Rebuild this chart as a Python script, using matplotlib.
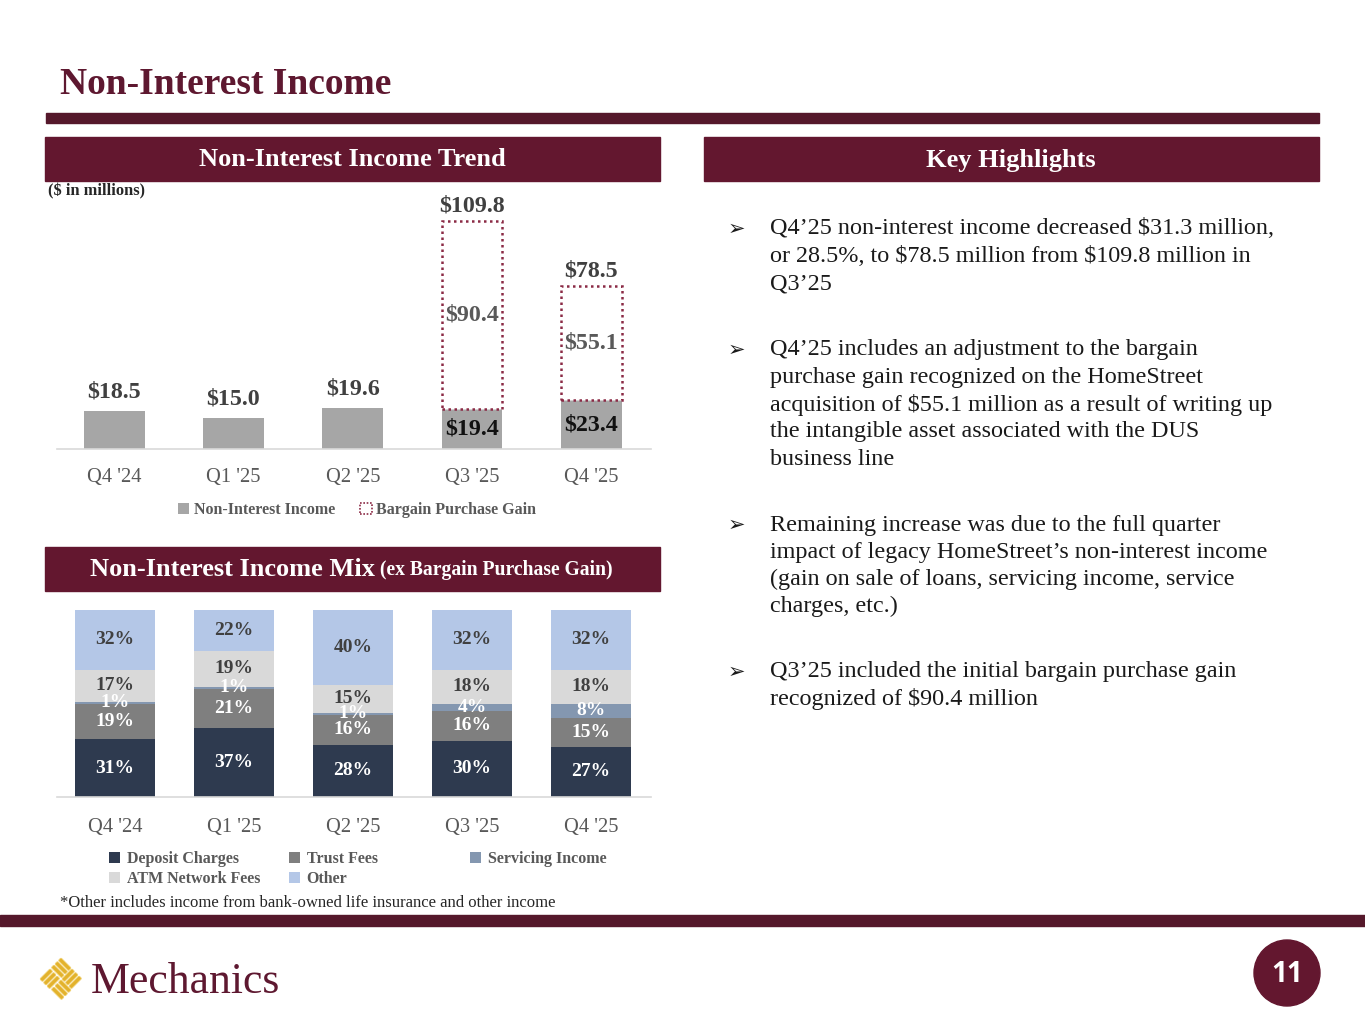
import numpy as np
import matplotlib
matplotlib.use("Agg")
import matplotlib.pyplot as plt
import matplotlib.patches as mpatches
from matplotlib.transforms import Affine2D

# ---------------- data ----------------
quarters = ["Q4 '24", "Q1 '25", "Q2 '25", "Q3 '25", "Q4 '25"]
non_interest_income = [18.5, 15.0, 19.6, 19.4, 23.4]
bargain_purchase_gain = [0.0, 0.0, 0.0, 90.4, 55.1]

mix_series = ["Deposit Charges", "Trust Fees", "Servicing Income", "ATM Network Fees", "Other"]
deposit_charges = [31, 37, 28, 30, 27]
trust_fees = [19, 21, 16, 16, 15]
servicing_income = [1, 1, 1, 4, 8]
atm_network_fees = [17, 19, 15, 18, 18]
other = [32, 22, 40, 32, 32]

W, H = 1365, 1024
MAROON = "#5E1830"
HEAD = "#63172F"
SERIF = ["Liberation Serif", "DejaVu Serif"]
plt.rcParams["font.family"] = SERIF
plt.rcParams["text.parse_math"] = False

fig = plt.figure(figsize=(W / 100, H / 100), dpi=100)
fig.patch.set_facecolor("white")


def rect(x0, y0, x1, y1):
    return [x0 / W, 1 - y1 / H, (x1 - x0) / W, (y1 - y0) / H]


# ---------------- overlay (page decoration) ----------------
ov = fig.add_axes([0, 0, 1, 1])
ov.set_xlim(0, W)
ov.set_ylim(H, 0)
ov.axis("off")

ov.text(60, 85, "Non-Interest Income", fontsize=27, fontweight="bold", color=MAROON,
        va="center", ha="left")
ov.add_patch(mpatches.Rectangle((46, 113), 1273, 10, color="#55182B"))
ov.add_patch(mpatches.Rectangle((45, 137), 615, 44, color=HEAD))
ov.add_patch(mpatches.Rectangle((704, 137), 615, 44, color=HEAD))
ov.add_patch(mpatches.Rectangle((45, 547), 615, 44, color=HEAD))
ov.text(352, 160, "Non-Interest Income Trend", fontsize=19, fontweight="bold", color="white",
        ha="center", va="center")
ov.text(1011, 160, "Key Highlights", fontsize=19, fontweight="bold", color="white",
        ha="center", va="center")
t1 = ov.text(90, 570, "Non-Interest Income Mix", fontsize=19, fontweight="bold", color="white",
             ha="left", va="center")
ov.annotate(" (ex Bargain Purchase Gain)", xycoords=t1, xy=(1, 0.5), va="center", ha="left",
            fontsize=14.1, fontweight="bold", color="white")
ov.text(48, 191, "($ in millions)", fontsize=11.8, fontweight="bold", color="#262626",
        ha="left", va="center")
ov.text(60, 903, "*Other includes income from bank-owned life insurance and other income",
        fontsize=12, color="#262626", ha="left", va="center")
ov.add_patch(mpatches.Rectangle((0, 915), W, 11, color="#55182B"))

# bullets
bullets = [
    (228, ["Q4\u201925 non-interest income decreased $31.3 million,",
           "or 28.5%, to $78.5 million from $109.8 million in",
           "Q3\u201925"]),
    (349, ["Q4\u201925 includes an adjustment to the bargain",
           "purchase gain recognized on the HomeStreet",
           "acquisition of $55.1 million as a result of writing up",
           "the intangible asset associated with the DUS",
           "business line"]),
    (524, ["Remaining increase was due to the full quarter",
           "impact of legacy HomeStreet\u2019s non-interest income",
           "(gain on sale of loans, servicing income, service",
           "charges, etc.)"]),
    (671, ["Q3\u201925 included the initial bargain purchase gain",
           "recognized of $90.4 million"]),
]
for y0, lines in bullets:
    ov.text(728, y0 + 1, "\u27a2", fontsize=15, color="#1a1a1a", ha="left", va="center",
            family=["DejaVu Sans"])
    for i, ln in enumerate(lines):
        ov.text(770, y0 + 1 + i * 27.3, ln, fontsize=17.4, color="#1a1a1a", ha="left",
                va="center")

# page number
ov.add_patch(mpatches.Circle((1287, 973), 33, color=HEAD))
ov.text(1287, 974, "11", fontsize=20, fontweight="bold", color="white", ha="center",
        va="center", family=["Open Sans", "DejaVu Sans"])

# logo
tr = Affine2D().rotate_deg_around(61, 979, 45) + ov.transData
GOLD = "#E3B22C"
for qx, qy in [(-1, -1), (1, -1), (-1, 1), (1, 1)]:
    u0 = -15 if qx < 0 else 0.5
    v0 = -15 if qy < 0 else 0.5
    horiz = qx * qy > 0
    for k in range(3):
        off = k * 5.0
        if horiz:
            r = mpatches.FancyBboxPatch((61 + u0, 979 + v0 + off), 14.5, 3.8,
                                        boxstyle="round,pad=0,rounding_size=1.2",
                                        transform=tr, facecolor=GOLD, edgecolor="#F0CF6E", lw=0.6)
        else:
            r = mpatches.FancyBboxPatch((61 + u0 + off, 979 + v0), 3.8, 14.5,
                                        boxstyle="round,pad=0,rounding_size=1.2",
                                        transform=tr, facecolor=GOLD, edgecolor="#F0CF6E", lw=0.6)
        ov.add_patch(r)
ov.text(91, 982, "Mechanics", fontsize=31.5, color=MAROON, ha="left", va="center")

# ---------------- chart 1: trend ----------------
ax1 = fig.add_axes(rect(57, 190, 651, 449))
x = np.arange(len(quarters))
px_per_unit = 2.077
ax1.set_ylim(0, (449 - 190) / px_per_unit)
ax1.set_xlim(-0.48, 4.50)
nii = np.array(non_interest_income)
bpg = np.array(bargain_purchase_gain)
GREY = "#A6A6A6"
ax1.bar(x, nii, width=0.51, color=GREY, zorder=2)
has_bpg = bpg > 0
ax1.bar(x[has_bpg], bpg[has_bpg], bottom=nii[has_bpg], width=0.51, facecolor="white",
        edgecolor="#8B2A45", linestyle=(0, (1, 1.4)), linewidth=1.8, zorder=2)
totals = nii + bpg
for i in x:
    off = 3 if has_bpg[i] else 6
    ax1.annotate(f"${totals[i]:.1f}", (i, totals[i]), xytext=(0, off), textcoords="offset points",
                 ha="center", va="bottom", fontsize=17.3, fontweight="bold", color="#404040")
    if has_bpg[i]:
        ax1.text(i, nii[i] / 2, f"${nii[i]:.1f}", ha="center", va="center", fontsize=17.3,
                 fontweight="bold", color="#111111")
        ax1.text(i, nii[i] + bpg[i] / 2, f"${bpg[i]:.1f}", ha="center", va="center",
                 fontsize=17.3, fontweight="bold", color="#595959")
ax1.set_xticks(x, quarters)
ax1.set_yticks([])
ax1.tick_params(axis="x", length=0, pad=14, labelsize=14.8, labelcolor="#595959")
for s in ["top", "left", "right"]:
    ax1.spines[s].set_visible(False)
ax1.spines["bottom"].set_color("#D9D9D9")
ax1.spines["bottom"].set_linewidth(1.2)
ax1.patch.set_alpha(0)
h1 = [mpatches.Patch(facecolor=GREY, label="Non-Interest Income"),
      mpatches.Patch(facecolor="white", edgecolor="#8B2A45", linestyle=(0, (1, 1)),
                     linewidth=1.2, label="Bargain Purchase Gain")]
fig.legend(handles=h1, loc="center", bbox_to_anchor=(357 / W, 1 - 510 / H), ncol=2,
           frameon=False, handlelength=0.7, handleheight=0.7,
           handletextpad=0.3, columnspacing=1.6, borderpad=0, borderaxespad=0,
           prop={"weight": "bold", "size": 11.5}, labelcolor="#595959")

# ---------------- chart 2: mix ----------------
ax2 = fig.add_axes(rect(57, 600, 651, 797))
ppu2 = 1.87
ax2.set_ylim(0, (797 - 600) / ppu2)
ax2.set_xlim(-0.487, 4.504)
mix_vals = [deposit_charges, trust_fees, servicing_income, atm_network_fees, other]
mix_colors = ["#2E3A4F", "#7F7F7F", "#8497B0", "#D9D9D9", "#B4C7E7"]
label_colors = ["white", "white", "white", "#404040", "#404040"]
bottom = np.zeros(len(quarters))
handles = []
for name, vals, col, lc in zip(mix_series, mix_vals, mix_colors, label_colors):
    vals = np.array(vals, dtype=float)
    b = ax2.bar(x, vals, bottom=bottom, width=0.67, color=col, label=name, zorder=2)
    handles.append(b)
    for i in x:
        ax2.text(i, bottom[i] + vals[i] / 2, f"{int(vals[i])}%", ha="center", va="center",
                 fontsize=14, fontweight="bold", color=lc, zorder=3)
    bottom += vals
ax2.set_xticks(x, quarters)
ax2.set_yticks([])
ax2.tick_params(axis="x", length=0, pad=15, labelsize=14.8, labelcolor="#595959")
for s in ["top", "left", "right"]:
    ax2.spines[s].set_visible(False)
ax2.spines["bottom"].set_color("#D9D9D9")
ax2.spines["bottom"].set_linewidth(1.2)
ax2.patch.set_alpha(0)

legend_cols = [([0, 3], 109), ([1, 4], 289), ([2], 470)]
for idxs, xpx in legend_cols:
    lg = fig.legend(handles=[handles[k] for k in idxs], labels=[mix_series[k] for k in idxs],
                    loc="upper left", bbox_to_anchor=(xpx / W, 1 - 851 / H), ncol=1,
                    frameon=False, handlelength=0.7, handleheight=0.7, handletextpad=0.4,
                    labelspacing=0.28, borderpad=0, borderaxespad=0,
                    prop={"weight": "bold", "size": 11.5}, labelcolor="#595959")

fig.savefig("out.png", dpi=100, facecolor="white")
